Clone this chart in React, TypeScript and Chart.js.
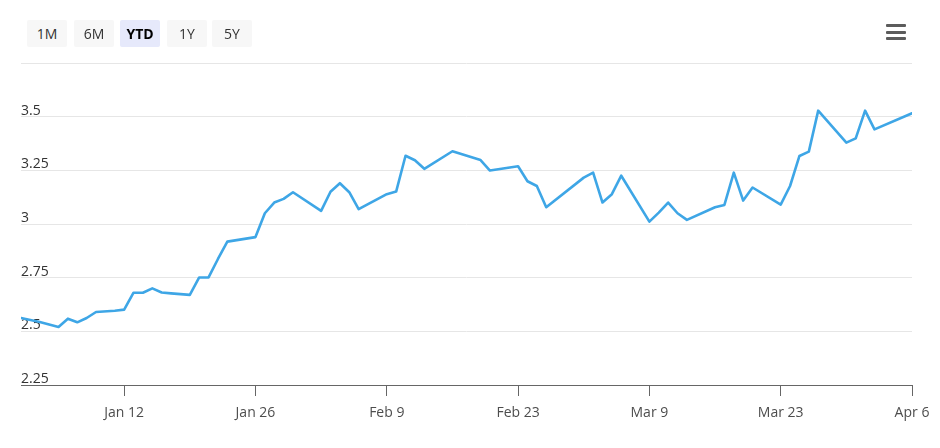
import React, { useEffect, useRef } from "react";
import { Chart, registerables } from "chart.js";

Chart.register(...registerables);

// Day offsets from Jan 1 for each observation
const days: number[] = [
  0, 2, 4, 5, 6, 7, 8, 10, 11, 12, 13, 14, 15, 16, 18, 19, 20, 21, 22, 25, 26, 27, 28, 29,
  32, 33, 34, 35, 36, 39, 40, 41, 42, 43, 46, 49, 50, 53, 54, 55, 56, 60, 61, 62, 63, 64,
  67, 68, 69, 70, 71, 74, 75, 76, 77, 78, 81, 82, 83, 84, 85, 88, 89, 90, 91, 95,
];

const values: number[] = [
  2.562, 2.543, 2.52, 2.559, 2.542, 2.562, 2.59, 2.596, 2.601, 2.68, 2.68, 2.7, 2.681, 2.677,
  2.67, 2.751, 2.751, 2.837, 2.918, 2.939, 3.05, 3.1, 3.117, 3.148, 3.061, 3.15, 3.19, 3.148,
  3.069, 3.139, 3.151, 3.318, 3.297, 3.257, 3.339, 3.298, 3.249, 3.269, 3.199, 3.177, 3.078,
  3.216, 3.239, 3.1, 3.139, 3.225, 3.011, 3.053, 3.1, 3.05, 3.019, 3.078, 3.089, 3.239, 3.109,
  3.17, 3.09, 3.177, 3.317, 3.337, 3.528, 3.379, 3.399, 3.528, 3.441, 3.516,
];

const xTickDays: number[] = [11, 25, 39, 53, 67, 81, 95];
const xTickLabels: string[] = ["Jan 12", "Jan 26", "Feb 9", "Feb 23", "Mar 9", "Mar 23", "Apr 6"];

const yTickValues: number[] = [2.25, 2.5, 2.75, 3, 3.25, 3.5, 3.75];
const yTickLabels: string[] = ["2.25", "2.5", "2.75", "3", "3.25", "3.5", ""];

const rangeButtons: string[] = ["1M", "6M", "YTD", "1Y", "5Y"];
const activeButton = "YTD";

const FONT = "'Open Sans', 'Noto Sans', sans-serif";

export default function App() {
  const canvasRef = useRef<HTMLCanvasElement | null>(null);

  useEffect(() => {
    document.body.style.margin = "0";
    const canvas = canvasRef.current;
    if (!canvas) return;
    const chart = new Chart(canvas, {
      type: "line",
      data: {
        datasets: [
          {
            data: days.map((d, i) => ({ x: d, y: values[i] })),
            borderColor: "#3ea6e6",
            borderWidth: 2.6,
            pointRadius: 0,
            pointHoverRadius: 0,
            tension: 0,
            borderJoinStyle: "round",
            borderCapStyle: "round",
            fill: false,
          },
        ],
      },
      options: {
        responsive: false,
        animation: false,
        layout: { padding: { left: 21, right: 28, top: 63, bottom: 0 } },
        plugins: { legend: { display: false }, tooltip: { enabled: false } },
        scales: {
          x: {
            type: "linear",
            min: 0,
            max: 95,
            afterBuildTicks: (scale: any) => {
              scale.ticks = xTickDays.map((v) => ({ value: v }));
            },
            afterFit: (scale: any) => {
              scale.height = 448 - 385;
            },
            grid: {
              drawOnChartArea: false,
              drawTicks: true,
              tickLength: 11,
              color: "#666666",
              lineWidth: 1,
            },
            border: { display: true, color: "#666666", width: 1 },
            ticks: {
              autoSkip: false,
              maxRotation: 0,
              minRotation: 0,
              padding: 9,
              color: "#4d4d4d",
              font: { family: FONT, size: 14 },
              callback: (value: any) => {
                const idx = xTickDays.indexOf(Number(value));
                return idx >= 0 ? xTickLabels[idx] : "";
              },
            },
          },
          y: {
            type: "linear",
            min: 2.25,
            max: 3.75,
            afterBuildTicks: (scale: any) => {
              scale.ticks = yTickValues.map((v) => ({ value: v }));
            },
            afterFit: (scale: any) => {
              scale.width = 0;
            },
            grid: {
              drawTicks: false,
              color: "#e6e6e6",
              lineWidth: 1,
            },
            border: { display: false },
            ticks: {
              mirror: true,
              padding: 0,
              labelOffset: -6,
              color: "#333333",
              font: { family: FONT, size: 14 },
              callback: (value: any) => {
                const idx = yTickValues.indexOf(Number(value));
                return idx >= 0 ? yTickLabels[idx] : "";
              },
            },
          },
        },
      },
    });
    return () => chart.destroy();
  }, []);

  const btnLeft = [27, 74, 120, 167, 212];

  return (
    <div style={{ position: "relative", width: 940, height: 448, background: "#ffffff", fontFamily: FONT }}>
      <canvas ref={canvasRef} width={940} height={448} style={{ position: "absolute", left: 0, top: 0 }} />
      {rangeButtons.map((b, i) => {
        const active = b === activeButton;
        return (
          <div
            key={b}
            style={{
              position: "absolute",
              left: btnLeft[i],
              top: 20,
              width: 40,
              height: 27,
              background: active ? "#e6e9fb" : "#f7f7f7",
              color: active ? "#000000" : "#333333",
              fontWeight: active ? 700 : 400,
              fontSize: 14,
              display: "flex",
              alignItems: "center",
              justifyContent: "center",
              borderRadius: 2,
            }}
          >
            {b}
          </div>
        );
      })}
      {[24, 30.5, 37].map((t) => (
        <div
          key={t}
          style={{
            position: "absolute",
            left: 886,
            top: t,
            width: 20,
            height: 3,
            background: "#5c5c5c",
            borderRadius: 1,
          }}
        />
      ))}
    </div>
  );
}
